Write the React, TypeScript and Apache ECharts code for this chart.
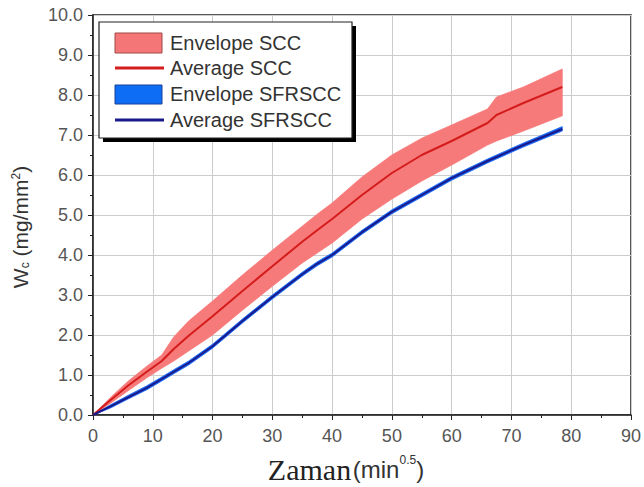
import React, { useEffect, useRef } from "react";
import * as echarts from "echarts";

// x values (Zaman, min^0.5)
const xs = [0, 3, 6, 9, 11.5, 13.5, 16, 20, 25, 30, 35, 37.5, 40, 45, 50, 55, 60, 66, 67.5, 72, 78.5];
// SCC
const sccAvg = [0, 0.38, 0.75, 1.08, 1.35, 1.65, 1.98, 2.47, 3.1, 3.72, 4.33, 4.62, 4.9, 5.5, 6.05, 6.5, 6.85, 7.3, 7.5, 7.8, 8.2];
const sccUp = [0, 0.45, 0.86, 1.22, 1.5, 1.95, 2.35, 2.85, 3.5, 4.12, 4.72, 5.02, 5.3, 5.95, 6.5, 6.92, 7.25, 7.65, 7.95, 8.2, 8.65];
const sccLow = [0, 0.3, 0.62, 0.93, 1.17, 1.35, 1.6, 2.0, 2.62, 3.22, 3.8, 4.05, 4.3, 4.9, 5.4, 5.85, 6.25, 6.75, 6.85, 7.1, 7.48];
// SFRSCC
const sfrAvg = [0, 0.22, 0.45, 0.68, 0.9, 1.08, 1.3, 1.72, 2.35, 2.95, 3.52, 3.78, 4.0, 4.57, 5.08, 5.5, 5.92, 6.35, 6.45, 6.75, 7.15];
const sfrUp = [0, 0.26, 0.5, 0.73, 0.95, 1.13, 1.35, 1.77, 2.4, 3.0, 3.57, 3.83, 4.05, 4.62, 5.13, 5.55, 5.97, 6.4, 6.5, 6.8, 7.21];
const sfrLow = [0, 0.18, 0.41, 0.63, 0.85, 1.03, 1.25, 1.67, 2.3, 2.9, 3.47, 3.73, 3.95, 4.52, 5.03, 5.45, 5.87, 6.3, 6.4, 6.7, 7.1];

const legendLabels = ["Envelope SCC", "Average SCC", "Envelope SFRSCC", "Average SFRSCC"];

const RED_FILL = "#f77a7a";
const RED_LINE = "#d41c1c";
const BLUE_FILL = "#1566f2";
const BLUE_LINE = "#1a1a8c";

export default function App() {
  const ref = useRef<HTMLDivElement>(null);
  useEffect(() => {
    if (!ref.current) return;
    const chart = echarts.init(ref.current, null, { renderer: "svg" });
    const pairs = (ys: number[]) => xs.map((x, i) => [x, ys[i]]);
    const band = (name: string, up: number[], low: number[], color: string) => ({
      type: "custom",
      name,
      silent: true,
      data: pairs(up),
      encode: { x: 0, y: 1 },
      renderItem: (params: any, api: any) => {
        if (params.dataIndex !== 0) return null;
        const pts: number[][] = [];
        for (let i = 0; i < xs.length; i++) pts.push(api.coord([xs[i], up[i]]));
        for (let i = xs.length - 1; i >= 0; i--) pts.push(api.coord([xs[i], low[i]]));
        return { type: "polygon", shape: { points: pts }, style: { fill: color, stroke: color, lineWidth: 0.8 } };
      },
    });
    const labelFont = { fontFamily: "Liberation Sans", fontSize: 18, color: "#555" };
    const legendX = 99, legendY = 22, legendW = 253, legendH = 116;
    const textStyle = (t: string, y: number) => ({
      type: "text",
      x: 170,
      y,
      style: { text: t, fontFamily: "Liberation Sans", fontSize: 20, fill: "#333", verticalAlign: "middle", align: "left" },
    });
    chart.setOption({
      animation: false,
      backgroundColor: "#fff",
      grid: { left: 93, right: 11, top: 15, bottom: 72, show: true, borderColor: "#222", borderWidth: 1.5, backgroundColor: "#fff" },
      xAxis: {
        type: "value",
        min: 0,
        max: 90,
        interval: 10,
        axisLine: { show: true, lineStyle: { color: "#222", width: 1.5 } },
        axisTick: { show: true, inside: false, length: 5, lineStyle: { color: "#222" } },
        minorTick: { show: true, splitNumber: 2, length: 3, lineStyle: { color: "#222" } },
        splitLine: { show: true, lineStyle: { color: "#cccccc", width: 1 } },
        axisLabel: { ...labelFont, margin: 12 },
      },
      yAxis: {
        type: "value",
        min: 0,
        max: 10,
        interval: 1,
        axisLine: { show: true, lineStyle: { color: "#222", width: 1.5 } },
        axisTick: { show: true, inside: false, length: 5, lineStyle: { color: "#222" } },
        minorTick: { show: true, splitNumber: 2, length: 3, lineStyle: { color: "#222" } },
        splitLine: { show: true, lineStyle: { color: "#cccccc", width: 1 } },
        axisLabel: { ...labelFont, margin: 10, formatter: (v: number) => v.toFixed(1) },
      },
      series: [
        band("Envelope SCC", sccUp, sccLow, RED_FILL),
        band("Envelope SFRSCC", sfrUp, sfrLow, BLUE_FILL),
        {
          type: "line",
          name: "Average SCC",
          showSymbol: false,
          symbol: "none",
          data: pairs(sccAvg),
          lineStyle: { color: RED_LINE, width: 2 },
        },
        {
          type: "line",
          name: "Average SFRSCC",
          showSymbol: false,
          symbol: "none",
          data: pairs(sfrAvg),
          lineStyle: { color: BLUE_LINE, width: 2 },
        },
      ],
      graphic: [
        { type: "rect", shape: { x: legendX + 4, y: legendY + 4, width: legendW, height: legendH }, style: { fill: "#000" }, z: 100 },
        { type: "rect", shape: { x: legendX, y: legendY, width: legendW, height: legendH }, style: { fill: "#fff", stroke: "#222", lineWidth: 1.2 }, z: 101 },
        { type: "rect", shape: { x: 115, y: 33, width: 47, height: 20 }, style: { fill: "#f47676", stroke: "#a04848", lineWidth: 1 }, z: 102 },
        { type: "line", shape: { x1: 115, y1: 68, x2: 164, y2: 68 }, style: { stroke: RED_LINE, lineWidth: 3 }, z: 102 },
        { type: "rect", shape: { x: 115, y: 85, width: 47, height: 19 }, style: { fill: "#0d6ef5", stroke: "#1a3f9a", lineWidth: 1 }, z: 102 },
        { type: "line", shape: { x1: 115, y1: 120, x2: 164, y2: 120 }, style: { stroke: BLUE_LINE, lineWidth: 3 }, z: 102 },
        { ...textStyle(legendLabels[0], 43), z: 102 },
        { ...textStyle(legendLabels[1], 68), z: 102 },
        { ...textStyle(legendLabels[2], 94), z: 102 },
        { ...textStyle(legendLabels[3], 120), z: 102 },
        {
          type: "text",
          x: 20,
          y: 227,
          rotation: Math.PI / 2,
          style: {
            text: "{m|W}{sub|c}{m| (mg/mm}{sup|2}{m|)}",
            align: "center",
            verticalAlign: "middle",
            rich: {
              m: { fontFamily: "Liberation Sans", fontSize: 21, fill: "#333" },
              sub: { fontFamily: "Liberation Sans", fontSize: 12, fill: "#333", verticalAlign: "bottom" },
              sup: { fontFamily: "Liberation Sans", fontSize: 12, fill: "#333", verticalAlign: "top" },
            },
          },
        },
        {
          type: "text",
          x: 346,
          y: 469,
          style: {
            text: "{z|Zaman}{g| }{p|(min}{sup|0.5}{p|)}",
            align: "center",
            verticalAlign: "middle",
            rich: {
              z: { fontFamily: "Liberation Serif", fontSize: 30, fill: "#222" },
              g: { fontFamily: "Liberation Sans", fontSize: 6 },
              p: { fontFamily: "Liberation Sans", fontSize: 24, fill: "#333" },
              sup: { fontFamily: "Liberation Sans", fontSize: 12, fill: "#333", verticalAlign: "top" },
            },
          },
        },
      ],
    });
    return () => chart.dispose();
  }, []);
  return <div ref={ref} style={{ position: "absolute", left: 0, top: 0, width: 644, height: 487 }} />;
}
